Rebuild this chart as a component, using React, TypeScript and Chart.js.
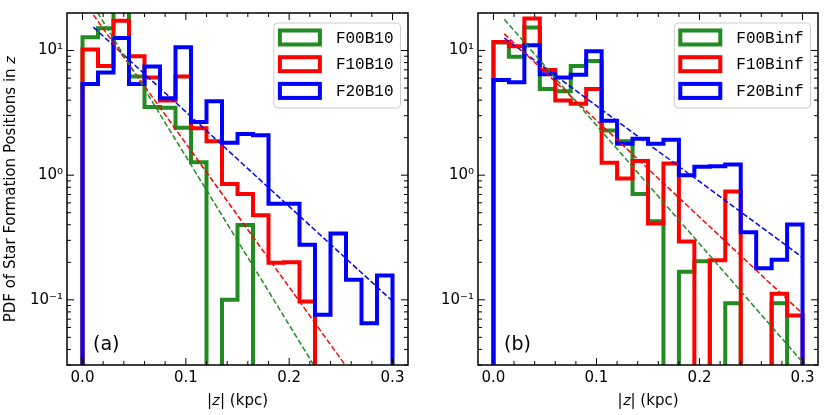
import { useEffect, useRef } from "react"
import { Chart, registerables } from "chart.js"

Chart.register(...registerables)

// histogram bin edges in |z| (kpc)
const binEdges = [
  0, 0.015, 0.03, 0.045, 0.06, 0.075, 0.09, 0.105, 0.12, 0.135, 0.15, 0.165, 0.18, 0.195, 0.21, 0.225,
  0.24, 0.255, 0.27, 0.285, 0.3,
]

// panel (a), B10 runs
const f00b10 = [12.8, 15.1, 25, 6.2, 3.52, 3.48, 2.4, 1.27, 0, 0.1, 0.398, 0, 0, 0, 0, 0, 0, 0, 0, 0]
const f10b10 = [10.2, 7.52, 17.3, 9.0, 6.08, 3.98, 6.2, 2.38, 1.87, 0.848, 0.706, 0.476, 0.198, 0.2, 0.097, 0, 0, 0, 0, 0]
const f20b10 = [5.38, 6.67, 12.6, 5.38, 7.43, 4.15, 10.6, 2.67, 3.92, 1.82, 2.14, 2.09, 0.589, 0.589, 0.277, 0.076, 0.341, 0.145, 0.065, 0.157]

// panel (b), Binf runs
const f00binf = [11.6, 8.9, 15.3, 4.92, 4.72, 7.52, 8.23, 2.28, 1.87, 0.706, 0.427, 0, 0.168, 0.204, 0, 0.094, 0, 0, 0.094, 0]
const f10binf = [11.7, 10.8, 18.1, 6.98, 3.98, 3.74, 4.92, 1.26, 0.94, 1.3, 0.41, 1.24, 0.294, 0, 0.208, 0.738, 0, 0, 0.112, 0.075]
const f20binf = [5.8, 5.56, 11.0, 6.45, 6.08, 6.38, 9.88, 2.73, 1.79, 1.96, 1.79, 1.92, 1.0, 1.17, 1.18, 1.22, 0.348, 0.179, 0.21, 0.402]

// exponential fits, values at fitZ
const fitZ = [0.0105, 0.3]
const fitF00B10 = [22.9, 0.0028]
const fitF10B10 = [19.3, 0.0089]
const fitF20B10 = [15.4, 0.0977]
const fitF00Binf = [17.8, 0.0316]
const fitF10Binf = [13.6, 0.0774]
const fitF20Binf = [12.6, 0.219]

const xMajorTicks = [0, 0.1, 0.2, 0.3]
const xMinorTicks = [0.02, 0.04, 0.06, 0.08, 0.12, 0.14, 0.16, 0.18, 0.22, 0.24, 0.26, 0.28]
const yMajorTicks = [0.1, 1, 10]
const yTickLabels = ["10⁻¹", "10⁰", "10¹"]
const yMinorTicks = [
  0.03, 0.04, 0.05, 0.06, 0.07, 0.08, 0.09, 0.2, 0.3, 0.4, 0.5, 0.6, 0.7, 0.8, 0.9, 2, 3, 4, 5, 6, 7, 8, 9,
]

const GREEN = "#228b22"
const RED = "#ff0000"
const BLUE = "#0000ff"
const FLOOR = 1e-4 // stand-in for empty bins on the log axis
const SANS = "'DejaVu Sans', sans-serif"
const MONO = "'Liberation Mono', monospace"

interface Series {
  label: string
  values: number[]
  fit: number[]
  color: string
}

const stepPoints = (values: number[]) => {
  const pts = [{ x: binEdges[0], y: FLOOR }]
  values.forEach((v, i) => {
    const y = v > 0 ? v : FLOOR
    pts.push({ x: binEdges[i], y }, { x: binEdges[i + 1], y })
  })
  pts.push({ x: binEdges[binEdges.length - 1], y: FLOOR })
  return pts
}

interface PanelProps {
  series: Series[]
  tag: string
  width: number
  axisWidth: number
  yTitle?: string
}

const Panel = ({ series, tag, width, axisWidth, yTitle }: PanelProps) => {
  const canvasRef = useRef<HTMLCanvasElement>(null)

  useEffect(() => {
    if (!canvasRef.current) return

    const decor = {
      id: "decor",
      afterDatasetsDraw(chart: any) {
        const { ctx, chartArea: a, scales } = chart
        const xs = scales.x
        const ys = scales.y
        ctx.save()
        ctx.strokeStyle = "#000"
        ctx.lineWidth = 1
        ctx.beginPath()
        const xTick = (v: number, len: number) => {
          const px = xs.getPixelForValue(v)
          ctx.moveTo(px, a.bottom)
          ctx.lineTo(px, a.bottom - len)
          ctx.moveTo(px, a.top)
          ctx.lineTo(px, a.top + len)
        }
        const yTick = (v: number, len: number) => {
          const py = ys.getPixelForValue(v)
          ctx.moveTo(a.left, py)
          ctx.lineTo(a.left + len, py)
          ctx.moveTo(a.right, py)
          ctx.lineTo(a.right - len, py)
        }
        xMajorTicks.forEach((v) => xTick(v, 7))
        xMinorTicks.forEach((v) => xTick(v, 4))
        yMajorTicks.forEach((v) => yTick(v, 7))
        yMinorTicks.forEach((v) => yTick(v, 4))
        ctx.stroke()

        ctx.lineWidth = 1.5
        ctx.strokeRect(a.left, a.top, a.right - a.left, a.bottom - a.top)

        // panel tag
        ctx.fillStyle = "#000"
        ctx.font = `19px ${SANS}`
        ctx.textAlign = "left"
        ctx.textBaseline = "middle"
        ctx.fillText(tag, a.left + 26, a.bottom - 20)

        // legend
        ctx.font = `16px ${MONO}`
        const textW = Math.max(...series.map((s) => ctx.measureText(s.label).width))
        const boxW = 6 + 40 + 16 + textW + 7
        const boxH = 85
        const bx = a.right - 7.5 - boxW
        const by = a.top + 10
        ctx.beginPath()
        ctx.roundRect(bx, by, boxW, boxH, 4)
        ctx.fillStyle = "rgba(255,255,255,0.8)"
        ctx.fill()
        ctx.strokeStyle = "#cccccc"
        ctx.lineWidth = 1
        ctx.stroke()
        series.forEach((s, i) => {
          const cy = by + 14.5 + i * 26.7
          ctx.strokeStyle = s.color
          ctx.lineWidth = 4
          ctx.strokeRect(bx + 6, cy - 7, 40, 14)
          ctx.fillStyle = "#000"
          ctx.fillText(s.label, bx + 62, cy + 1)
        })
        ctx.restore()
      },
    }

    const hist = series.map((s, i) => ({
      label: s.label,
      data: stepPoints(s.values),
      borderColor: s.color,
      borderWidth: 4,
      borderJoinStyle: "miter" as const,
      pointRadius: 0,
      fill: false,
      clip: 0,
      order: 10 - i,
    }))
    const fits = series.map((s) => ({
      label: s.label + " fit",
      data: fitZ.map((z, j) => ({ x: z, y: s.fit[j] })),
      borderColor: s.color,
      borderWidth: 1.5,
      borderDash: [5.5, 2.5],
      pointRadius: 0,
      fill: false,
      clip: 0,
      order: 0,
    }))

    const chart = new Chart(canvasRef.current, {
      type: "line",
      data: { datasets: [...hist, ...fits] },
      options: {
        responsive: false,
        animation: false,
        events: [],
        layout: { padding: { left: 0, top: 8, right: 12, bottom: 0 } },
        plugins: { legend: { display: false }, tooltip: { enabled: false } },
        scales: {
          x: {
            type: "linear",
            min: -0.015,
            max: 0.315,
            afterBuildTicks: (scale: any) => {
              scale.ticks = xMajorTicks.map((v) => ({ value: v }))
            },
            afterFit: (scale: any) => {
              scale.height = 50
            },
            grid: { display: false, drawTicks: false },
            border: { display: false },
            ticks: {
              autoSkip: false,
              maxRotation: 0,
              padding: 4,
              color: "#000",
              font: { family: SANS, size: 15 },
              callback: (v: any) => Number(v).toFixed(1),
            },
            title: {
              display: true,
              text: "|𝑧| (kpc)",
              color: "#000",
              font: { family: SANS, size: 15 },
              padding: { top: 0, bottom: 5 },
            },
          },
          y: {
            type: "logarithmic",
            min: 0.03,
            max: 20,
            afterBuildTicks: (scale: any) => {
              scale.ticks = yMajorTicks.map((v) => ({ value: v }))
            },
            afterFit: (scale: any) => {
              scale.width = axisWidth
            },
            grid: { display: false, drawTicks: false },
            border: { display: false },
            ticks: {
              autoSkip: false,
              padding: 4,
              color: "#000",
              font: { family: SANS, size: 15 },
              callback: (v: any) => {
                const k = yMajorTicks.indexOf(Number(v))
                return k >= 0 ? yTickLabels[k] : ""
              },
            },
            title: {
              display: !!yTitle,
              text: yTitle || "",
              color: "#000",
              font: { family: SANS, size: 15 },
              padding: { top: 2, bottom: 0 },
            },
          },
        },
      },
      plugins: [decor],
    })

    return () => {
      chart.destroy()
    }
  }, [series, tag, width, axisWidth, yTitle])

  return <canvas ref={canvasRef} width={width} height={415} style={{ display: "block" }} />
}

const panelA: Series[] = [
  { label: "F00B10", values: f00b10, fit: fitF00B10, color: GREEN },
  { label: "F10B10", values: f10b10, fit: fitF10B10, color: RED },
  { label: "F20B10", values: f20b10, fit: fitF20B10, color: BLUE },
]
const panelB: Series[] = [
  { label: "F00Binf", values: f00binf, fit: fitF00Binf, color: GREEN },
  { label: "F10Binf", values: f10binf, fit: fitF10Binf, color: RED },
  { label: "F20Binf", values: f20binf, fit: fitF20Binf, color: BLUE },
]

export default function App() {
  return (
    <div style={{ position: "absolute", left: 0, top: 0, width: 830, height: 415, background: "#fff", display: "flex" }}>
      <Panel series={panelA} tag="(a)" width={420} axisWidth={67} yTitle="PDF of Star Formation Positions in 𝑧" />
      <Panel series={panelB} tag="(b)" width={410} axisWidth={58} />
    </div>
  )
}
